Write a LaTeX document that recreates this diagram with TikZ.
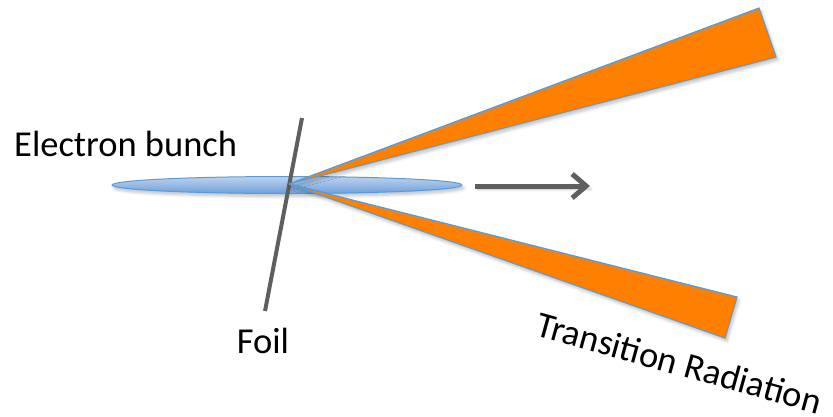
\documentclass[tikz,border=0pt]{standalone}
\usepackage{fontspec}
\setmainfont{Carlito}
\usetikzlibrary{arrows.meta,shadows.blur,shapes.geometric}

\definecolor{beamorange}{HTML}{FF7F00}
\definecolor{edgeblue}{HTML}{5B9BD5}
\definecolor{bunchlight}{HTML}{BCD3F0}
\definecolor{bunchdark}{HTML}{6F9FDA}
\definecolor{darkgray}{HTML}{5F5F5F}

\tikzset{
  label text/.style={inner sep=0pt, font=\fontsize{36.5}{42}\selectfont, text=black},
  soft shadow/.style={blur shadow={shadow xshift=2pt, shadow yshift=-3pt,
      shadow opacity=25, shadow blur steps=6, shadow blur radius=3pt}},
  beam/.style={fill=beamorange, draw=edgeblue, line width=1.2pt, line join=miter, soft shadow},
  bunch/.style={draw=edgeblue, line width=1pt, top color=bunchlight, bottom color=bunchdark},
  foil line/.style={draw=darkgray, line width=4pt},
  motion/.style={draw=darkgray, line width=5pt,
      -{Straight Barb[length=14pt, width=24pt, line width=5pt]}},
}

\begin{document}
\begin{tikzpicture}[x=1pt, y=-1pt]
  \useasboundingbox (0,0) rectangle (833,416);

  % electron bunch
  \node[bunch, ellipse, minimum width=350pt, minimum height=17pt, inner sep=0pt,
        soft shadow] (bunch) at (287,185) {};

  % foil
  \coordinate (foiltop) at (302,118);
  \coordinate (foilbot) at (265,311);
  \draw[foil line] (foiltop) -- (foilbot);

  % radiation cones from the crossing point
  \coordinate (apex) at (289,184);
  \coordinate (up1) at (759,8);
  \coordinate (up2) at (776,57);
  \coordinate (lo1) at (737,297);
  \coordinate (lo2) at (725,338);
  \path[beam] (apex) -- (up1) -- (up2) -- cycle;
  \path[beam] (apex) -- (lo1) -- (lo2) -- cycle;

  % direction of motion
  \coordinate (mstart) at (475,186);
  \coordinate (mend) at (590,186);
  \draw[motion, soft shadow] (mstart) -- (mend);

  % labels
  \node[label text, anchor=base west] (electronlabel) at (14,156) {Electron bunch};
  \node[label text, anchor=base] (foillabel) at (263,353) {Foil};
  \node[label text, anchor=base west, rotate=-15.5] (trlabel) at (534,335.5) {Transition Radiation};
\end{tikzpicture}
\end{document}
